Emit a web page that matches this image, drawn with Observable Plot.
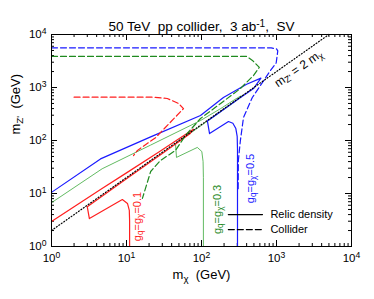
<!DOCTYPE html>
<html><head><meta charset="utf-8">
<script src="https://cdn.jsdelivr.net/npm/d3@7"></script>
<script src="https://cdn.jsdelivr.net/npm/@observablehq/plot@0.6"></script>
<style>body{margin:0;background:#fff}</style>
</head><body><div id="chart"></div>
<script>
// ---------- data ----------
const title = "50 TeV  pp collider,  3 ab^{-1},  SV";
const xLabel = "m_{χ}  (GeV)";
const yLabel = "m_{Z'}  (GeV)";
const majorTicks = [1, 10, 100, 1000, 10000];
const tickLabels = ["10^{0}", "10^{1}", "10^{2}", "10^{3}", "10^{4}"];
const decades = [1, 10, 100, 1000];
const multipliers = [2, 3, 4, 5, 6, 7, 8, 9];

// relic density curves (solid)  [m_chi, m_Z']
const redRelic = [[1,2.96],[4.5,11.9],[10,24.5],[28,63],[50,108],[78,163],[70,134],[30,57],[10,19],[3.0,5.6],[3.2,3.37],[8.8,7.7],[10.3,6.5],[10.9,4.8],[11,3],[11,1]];
const greenRelic = [[1,6.7],[4.74,29.3],[21,82],[97,238],[180,400],[300,635],[340,700],[300,580],[100,193],[45,87],[46.4,48],[88,74],[101,62],[105,40],[106,20],[106,1]];
const blueRelic = [[1,10.5],[4.5,45],[21,117],[97,296],[196,650],[400,1150],[620,1500],[500,970],[300,585],[120,233],[128,135],[229,228],[262,212],[287,168],[299,120],[302,70],[302,1]];
// collider curves (dashed)
const redCollider = [[2,656],[23,656],[35,620],[49.3,500],[57.6,400],[24.4,113],[14,65],[12.4,52]];
const greenCollider = [[1,3850],[400,3850],[478,3240],[590,2390],[495,1690],[330,955],[180,500],[97,260],[61,124],[45,65],[28.4,42],[21,26],[16.3,8.1]];
const blueCollider = [[1,5600],[850,5600],[1000,5350],[1040,4900],[990,2900],[830,2090],[476,648],[363,271],[330,100],[310,42],[308,11]];
// m_Z' = 2 m_chi
const resonance = [[1,2],[5000,10000]];

const curveLabels = ["g_{q}=g_{χ}=0.1", "g_{q}=g_{χ}=0.3", "g_{q}=g_{χ}=0.5"];
const resonanceLabel = "m_{Z'} = 2 m_{χ}";
const legendLabels = ["Relic density", "Collider"];

// ---------- style ----------
const RED = "#ff1f1f", GREEN = "#3aa83a", GREEN_D = "#1f8a1f", BLUE = "#1a1aff";
const minorTicks = decades.flatMap(d => multipliers.map(m => d * m));
const frameW = 300, frameH = 212;
const X = d => d[0], Y = d => d[1];

const chart = Plot.plot({
  width: 374, height: 299,
  marginLeft: 51, marginRight: 23, marginTop: 34, marginBottom: 53,
  x: {type: "log", domain: [1, 1e4]},
  y: {type: "log", domain: [1, 1e4]},
  style: {fontFamily: "'Liberation Sans', Arial, sans-serif", fontSize: "11px", color: "black", background: "white"},
  marks: [
    // ticks (inward, all four sides)
    Plot.tickX(majorTicks, {x: d => d, insetTop: frameH - 6, stroke: "black"}),
    Plot.tickX(minorTicks, {x: d => d, insetTop: frameH - 3, stroke: "black"}),
    Plot.tickX(majorTicks, {x: d => d, insetBottom: frameH - 6, stroke: "black"}),
    Plot.tickX(minorTicks, {x: d => d, insetBottom: frameH - 3, stroke: "black"}),
    Plot.tickY(majorTicks, {y: d => d, insetRight: frameW - 6, stroke: "black"}),
    Plot.tickY(minorTicks, {y: d => d, insetRight: frameW - 3, stroke: "black"}),
    Plot.tickY(majorTicks, {y: d => d, insetLeft: frameW - 6, stroke: "black"}),
    Plot.tickY(minorTicks, {y: d => d, insetLeft: frameW - 3, stroke: "black"}),
    Plot.axisX(majorTicks, {anchor: "bottom", tickSize: 0, tickPadding: 7, fontSize: 11.5,
      tickFormat: d => tickLabels[majorTicks.indexOf(d)], label: null}),
    Plot.axisY(majorTicks, {anchor: "left", tickSize: 0, tickPadding: 5, fontSize: 11.5,
      tickFormat: d => tickLabels[majorTicks.indexOf(d)], label: null}),
    // curves
    Plot.line(greenRelic, {x: X, y: Y, stroke: GREEN, strokeWidth: 0.8}),
    Plot.line(redRelic, {x: X, y: Y, stroke: RED, strokeWidth: 1.2}),
    Plot.line(blueRelic, {x: X, y: Y, stroke: BLUE, strokeWidth: 1.2}),
    Plot.line(redCollider, {x: X, y: Y, stroke: RED, strokeWidth: 1.2, strokeDasharray: "6,3"}),
    Plot.line(greenCollider, {x: X, y: Y, stroke: GREEN_D, strokeWidth: 1.2, strokeDasharray: "6,3"}),
    Plot.line(blueCollider, {x: X, y: Y, stroke: BLUE, strokeWidth: 1.2, strokeDasharray: "6,3"}),
    Plot.line(resonance, {x: X, y: Y, stroke: "black", strokeWidth: 1.2, strokeDasharray: "1,2"}),
    Plot.frame({stroke: "black", strokeWidth: 1}),
    // labels
    Plot.text([curveLabels[0]], {x: 14, y: 3.68, rotate: -90, fill: RED, fontSize: 11}),
    Plot.text([curveLabels[1]], {x: 163, y: 5.0, rotate: -90, fill: GREEN_D, fontSize: 11}),
    Plot.text([curveLabels[2]], {x: 450, y: 19.2, rotate: -90, fill: BLUE, fontSize: 11}),
    Plot.text([resonanceLabel], {x: 1970, y: 2300, rotate: -35, fill: "black", fontSize: 12}),
    // legend
    Plot.line([[228, 4.0], [650, 4.0]], {x: X, y: Y, stroke: "black", strokeWidth: 1.2}),
    Plot.line([[228, 2.09], [650, 2.09]], {x: X, y: Y, stroke: "black", strokeWidth: 1.2, strokeDasharray: "6,3"}),
    Plot.text([legendLabels[0]], {x: 830, y: 4.0, textAnchor: "start", fontSize: 11}),
    Plot.text([legendLabels[1]], {x: 830, y: 2.09, textAnchor: "start", fontSize: 11}),
    // titles
    Plot.text([title], {frameAnchor: "top", dy: -13, fontSize: 13.5}),
    Plot.text([xLabel], {frameAnchor: "bottom", dy: 32, fontSize: 13}),
    Plot.text([yLabel], {frameAnchor: "left", dx: -36, dy: -6, rotate: -90, fontSize: 13})
  ]
});

// rich text: _{...} subscripts and ^{...} superscripts
function richify(el) {
  const s = el.textContent;
  if (!/[_^]\{/.test(s)) return;
  const parts = [];
  const re = /([_^])\{([^}]*)\}/g;
  let last = 0, m;
  while ((m = re.exec(s))) {
    if (m.index > last) parts.push({t: s.slice(last, m.index)});
    parts.push({t: m[2], k: m[1]});
    last = re.lastIndex;
  }
  if (last < s.length) parts.push({t: s.slice(last)});
  const sel = d3.select(el);
  sel.text(null);
  for (const p of parts) {
    const ts = sel.append("tspan").text(p.t);
    if (p.k) ts.attr("font-size", "75%").attr("baseline-shift", p.k === "^" ? "45%" : "-25%");
  }
}
d3.select(chart).selectAll("text").each(function () { richify(this); });
document.getElementById("chart").appendChild(chart);
</script>
</body></html>
